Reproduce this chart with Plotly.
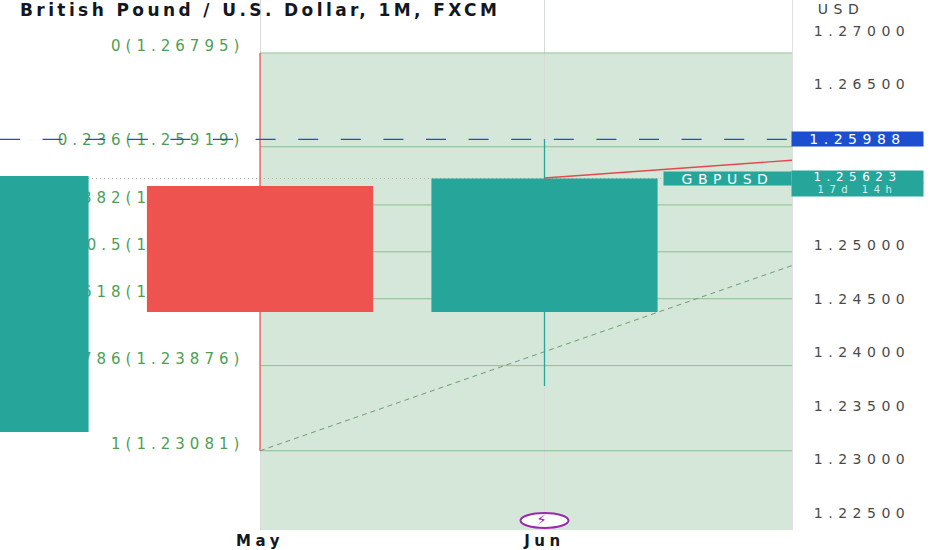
import plotly.graph_objects as go

candle_x = [-1, 0, 1]
candle_open = [1.23256, 1.25553, 1.24376]
candle_high = [1.25646, 1.26795, 1.25991]
candle_low = [1.23256, 1.23081, 1.23685]
candle_close = [1.25646, 1.24376, 1.25623]
month_ticks = [0, 1]
month_labels = ["May", "Jun"]
price_ticks = [1.225, 1.23, 1.235, 1.24, 1.245, 1.25, 1.265, 1.27]
fib_ratios = ["0", "0.236", "0.382", "0.5", "0.618", "0.786", "1"]
fib_prices = [1.26795, 1.25919, 1.25376, 1.24938, 1.24500, 1.23876, 1.23081]
last_price = 1.25623
bid_price = 1.25988
trend_x = [1, 1.87]
trend_y = [1.25627, 1.25793]
diag_x = [0, 1.87]
diag_y = [1.23081, 1.24810]
x_range = [-0.9139, 1.87]
y_range = [1.22341, 1.27289]
bar_width = 0.795
label_lift = 0.00018

UP = "#26a69a"
DOWN = "#ef5350"
GREEN = "#4c9f54"
FONT = "DejaVu Sans"

fig = go.Figure()
fig.add_shape(type="rect", x0=0, x1=x_range[1], y0=y_range[0], y1=fib_prices[0],
              fillcolor="rgba(46,135,60,0.2)", line_width=0, layer="below")

for p in fib_prices:
    fig.add_trace(go.Scatter(x=diag_x, y=[p, p], mode="lines", hoverinfo="skip",
                             line=dict(color="rgba(56,142,60,0.45)", width=1)))
fig.add_trace(go.Scatter(
    x=[-0.055] * len(fib_prices), y=[p - label_lift for p in fib_prices], mode="text", hoverinfo="skip",
    text=[f"{r}({p:.5f})" for r, p in zip(fib_ratios, fib_prices)],
    textposition="top left", textfont=dict(family=FONT, size=15, color=GREEN)))
fig.add_trace(go.Scatter(x=x_range, y=[last_price, last_price], mode="lines", hoverinfo="skip",
                         line=dict(color="#b0b0b0", width=1, dash="1px,3px")))
fig.add_trace(go.Scatter(x=diag_x, y=diag_y, mode="lines", hoverinfo="skip",
                         line=dict(color="#6f9a75", width=1, dash="5px,4px")))

colors = [UP if c >= o else DOWN for o, c in zip(candle_open, candle_close)]
fig.add_trace(go.Bar(
    x=candle_x, y=[c - o for o, c in zip(candle_open, candle_close)], base=candle_open,
    width=bar_width, marker=dict(color=colors, line_width=0), xaxis="x2", yaxis="y2"))
for x, hi, lo, col in zip(candle_x, candle_high, candle_low, colors):
    fig.add_trace(go.Scatter(x=[x, x], y=[lo, hi], mode="lines", xaxis="x2", yaxis="y2",
                             hoverinfo="skip", line=dict(color=col, width=1.3)))
fig.add_trace(go.Scatter(x=trend_x, y=trend_y, mode="lines", xaxis="x2", yaxis="y2", hoverinfo="skip",
                         line=dict(color="#e5484d", width=1.4)))
fig.add_trace(go.Scatter(x=x_range, y=[bid_price, bid_price], mode="lines", xaxis="x2", yaxis="y2",
                         hoverinfo="skip", line=dict(color="#1c4fd0", width=1.4, dash="20px,22.6px")))

# Lightning marker on the Jun bar
fig.add_shape(type="circle", xref="x", yref="paper", xsizemode="pixel", ysizemode="pixel",
              xanchor=1, yanchor=0, x0=-24, x1=24, y0=2, y1=17,
              fillcolor="white", line=dict(color="#9c27b0", width=2))

fig.update_layout(
    width=932, height=550, margin=dict(l=0, r=140, t=0, b=20),
    paper_bgcolor="white", plot_bgcolor="white", showlegend=False,
    title=dict(text="British Pound / U.S. Dollar, 1M, FXCM", x=20 / 932, xanchor="left",
               y=1 - 10 / 550, yanchor="middle",
               font=dict(family=FONT, size=17, color="#131722", weight="bold")),
    xaxis=dict(range=x_range, tickmode="array", tickvals=month_ticks, ticktext=month_labels,
               showgrid=True, gridcolor="#d8dcd8", zeroline=False, showline=False, ticks="",
               tickfont=dict(family=FONT, size=15, color="#131722", weight="bold"),
               fixedrange=True),
    yaxis=dict(range=y_range, side="right", tickmode="array", tickvals=price_ticks, tickformat=".5f",
               showgrid=False, zeroline=False, showline=True, linecolor="#e0e0e0", linewidth=1,
               mirror=False, ticks="", ticklabelstandoff=18,
               tickfont=dict(family=FONT, size=14, color="#4a4a4a"), fixedrange=True),
    xaxis2=dict(range=x_range, overlaying="x", visible=False, fixedrange=True),
    yaxis2=dict(range=y_range, overlaying="y", side="right", visible=False, fixedrange=True),
)

def tag(px0, px1, py0, py1, text, bg, size=13, color="white"):
    fig.add_annotation(xref="paper", yref="paper",
                       x=(px0 + px1) / 2 / 792, y=1 - (py0 + py1) / 2 / 530,
                       xanchor="center", yanchor="middle", width=px1 - px0, height=py1 - py0,
                       text=text, showarrow=False, bgcolor=bg, borderpad=0,
                       font=dict(family=FONT, size=size, color=color))

tag(792, 923, 132, 146, f"{bid_price:.5f}", "#1c4fd0", 14)
tag(792, 923, 171.5, 183, f"{last_price:.5f}", UP, 12)
tag(792, 923, 183, 196, "17d 14h", UP, 10, "#d4efec")
tag(664, 791, 172, 185, "GBPUSD", UP, 14)
fig.add_annotation(xref="paper", yref="paper", x=841 / 792, y=1 - 9 / 530, text="USD", showarrow=False,
                   xanchor="center", yanchor="middle",
                   font=dict(family=FONT, size=14, color="#444444"))
fig.add_annotation(xref="x", yref="paper", x=1, y=1 - 520 / 530, text="⚡", showarrow=False,
                   xanchor="center", yanchor="middle",
                   font=dict(family=FONT, size=15, color="#9c27b0"))

css = """
var s=document.createElement('style');
s.textContent='body{margin:0!important;padding:0}'
+'.ytick text{letter-spacing:5.5px}'
+'.xtick text{letter-spacing:4.5px}'
+'.gtitle{letter-spacing:3.4px}'
+'.textpoint text{letter-spacing:5px}'
+'.annotation-text{letter-spacing:5.5px}';
document.head.appendChild(s);
"""
fig.write_html("out.html", post_script=css, config=dict(displayModeBar=False))
